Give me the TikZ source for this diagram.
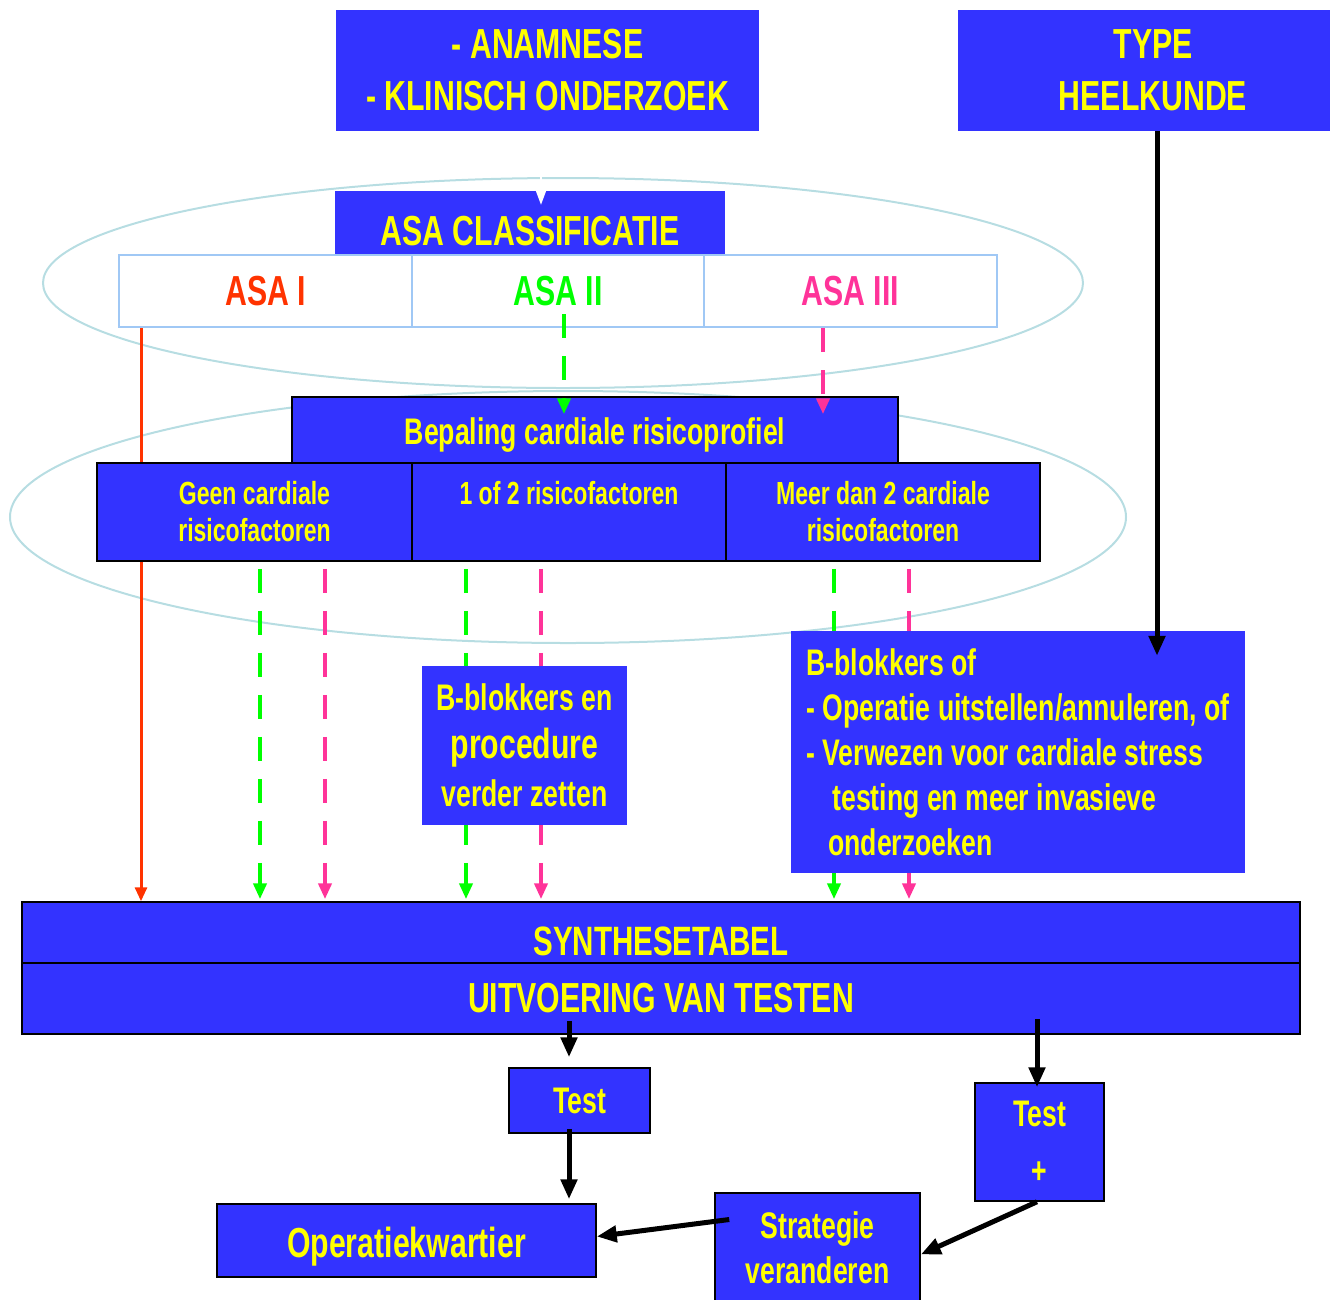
\documentclass[tikz,border=0pt]{standalone}
\usepackage{fontspec}
\setmainfont{Liberation Sans}[FakeStretch=0.72]
\usetikzlibrary{arrows.meta,backgrounds}

\definecolor{blokblauw}{RGB}{51,51,255}
\definecolor{blokgeel}{RGB}{255,255,0}
\definecolor{ringkleur}{RGB}{183,221,226}
\definecolor{celrand}{RGB}{160,200,245}
\definecolor{asarood}{RGB}{255,51,0}
\definecolor{asagroen}{RGB}{0,255,0}
\definecolor{asaroze}{RGB}{255,51,153}
\newcommand{\fz}[2]{\fontsize{#1}{#2}\selectfont}

\tikzset{
  blok/.style={fill=blokblauw, text=blokgeel, align=center, inner sep=0pt},
  rblok/.style={blok, draw=black, line width=1.5pt},
  cel/.style={draw=celrand, line width=2pt, fill=white, inner sep=0pt,
    minimum width=292.5pt, minimum height=72pt, font=\bfseries\fz{42}{50}},
  ring/.style={draw=ringkleur, line width=2pt},
  pijl/.style={line width=5pt, -{Triangle[length=20pt,width=16pt]}},
  groen/.style={asagroen, line width=4pt, dash pattern=on 24pt off 18pt,
    -{Triangle[length=16pt,width=13pt]}},
  roze/.style={groen, asaroze},
}

\begin{document}
\begin{tikzpicture}[x=1pt, y=-1pt]
\useasboundingbox (0,0) rectangle (1335,1299);
\path (547.5,70.5) node[blok, minimum width=423pt, minimum height=121pt, font=\bfseries\fz{42}{52}] (anam) {- ANAMNESE\\- KLINISCH ONDERZOEK}
  (1144,70.5) node[blok, minimum width=372pt, minimum height=121pt, font=\bfseries\fz{42}{52}] (type) {\hspace*{18pt}TYPE\\\hspace*{18pt}HEELKUNDE}
  (530,223) node[blok, minimum width=390pt, minimum height=64pt, text height=45pt, text depth=0pt, font=\bfseries\fz{42}{50}] (asacl) {ASA CLASSIFICATIE}
  (265.5,291) node[cel, text=asarood] (asaI) {ASA I}
  (558,291) node[cel, text=asagroen] (asaII) {ASA II}
  (850.5,291) node[cel, text=asaroze] (asaIII) {ASA III}
  (595,430) node[rblok, minimum width=606pt, minimum height=66pt, text height=29pt, text depth=0pt, font=\bfseries\fz{37}{44}] (bep) {Bepaling cardiale risicoprofiel}
  (254.5,512) node[rblok, minimum width=315pt, minimum height=98pt, font=\bfseries\fz{32}{37}] (geen) {Geen cardiale\\risicofactoren}
  (569,512) node[rblok, minimum width=314pt, minimum height=98pt, font=\bfseries\fz{32}{37}] (een) {1 of 2 risicofactoren\\\phantom{risicofactoren}}
  (883,512) node[rblok, minimum width=314pt, minimum height=98pt, font=\bfseries\fz{32}{37}] (meer) {Meer dan 2 cardiale\\risicofactoren}
  (661,932.5) node[rblok, minimum width=1278pt, minimum height=61pt, text height=46pt, text depth=0pt, font=\bfseries\fz{41}{48}] (synth) {SYNTHESETABEL}
  (661,998.5) node[rblok, minimum width=1278pt, minimum height=71pt, font=\bfseries\fz{42}{48}] (uitv) {UITVOERING VAN TESTEN}
  (579.5,1100.5) node[rblok, minimum width=141pt, minimum height=65pt, font=\bfseries\fz{37}{44}] (test) {Test}
  (406.5,1240.5) node[rblok, minimum width=379pt, minimum height=73pt, text height=34pt, text depth=0pt, font=\bfseries\fz{42}{48}] (opk) {Operatiekwartier}
  (1039.5,1142) node[rblok, minimum width=129pt, minimum height=118pt, font=\bfseries\fz{37}{57}] (testplus) {Test\\+}
  (817.5,1247.5) node[rblok, minimum width=205pt, minimum height=109pt, font=\bfseries\fz{37}{45}] (strat) {Strategie\\veranderen};

\begin{scope}[on background layer]
\draw[ring] (563,283) ellipse [x radius=520, y radius=105];
\draw[ring] (568,517) ellipse [x radius=558, y radius=126];
\draw[asarood, line width=3pt, -{Triangle[length=14pt,width=12pt]}] ([xshift=-124.5pt]asaI.south) coordinate (r0) -- (r0 |- synth.north);
\end{scope}

\draw[groen] ([xshift=6pt,yshift=14pt]asaII.south) coordinate (g0) -- ([yshift=-18pt]g0 |- bep.north);
\draw[roze] ([xshift=-27.5pt]asaIII.south) coordinate (p0) -- ([yshift=-18pt]p0 |- bep.north);
\draw[groen, shorten <=7pt, shorten >=2pt] ([xshift=5.5pt]geen.south) coordinate (d1) -- (d1 |- synth.north);
\draw[roze, shorten <=7pt, shorten >=2pt] ([xshift=70.5pt]geen.south) coordinate (d2) -- (d2 |- synth.north);
\draw[groen, shorten <=7pt, shorten >=2pt] ([xshift=-103pt]een.south) coordinate (d3) -- (d3 |- synth.north);
\draw[roze, shorten <=7pt, shorten >=2pt] ([xshift=-28pt]een.south) coordinate (d4) -- (d4 |- synth.north);
\draw[groen, shorten <=7pt, shorten >=2pt] ([xshift=-49pt]meer.south) coordinate (d5) -- (d5 |- synth.north);
\draw[roze, shorten <=7pt, shorten >=2pt] ([xshift=26pt]meer.south) coordinate (d6) -- (d6 |- synth.north);

\path (524.5,745.5) node[blok, minimum width=205pt, minimum height=159pt, font=\bfseries\fz{37}{48}] (bbl) {B-blokkers en\\{\fz{42}{48}procedure}\\verder zetten}
  (1018,752) node[blok, minimum width=454pt, minimum height=242pt, align=left, font=\bfseries\fz{37}{45}] (rbox) {B-blokkers of\\- Operatie uitstellen/annuleren, of\\- Verwezen voor cardiale stress\\\hspace*{26pt}testing en meer invasieve\\\hspace*{22pt}onderzoeken};

\coordinate (t0) at ([xshift=13pt]type.south);
\coordinate (t1) at ([xshift=-10.5pt]test.north);
\coordinate (t3) at ([xshift=-2.5pt]testplus.north);
\draw[white, line width=1.5pt, -{Triangle[length=14pt,width=10pt]}] ([xshift=-6.5pt]anam.south) -- ([xshift=11pt,yshift=-14pt]asacl.north);
\draw[pijl] (t0) -- ([yshift=-25pt]t0 |- rbox.north);
\draw[pijl] ([yshift=14pt]t1 |- uitv.south) -- ([yshift=10pt]t1);
\draw[pijl] ([yshift=5pt]t1 |- test.south) -- ([yshift=4pt]t1 |- opk.north);
\draw[pijl] ([yshift=16pt]t3 |- uitv.south) -- ([yshift=-5pt]t3);
\draw[pijl] ([xshift=-2.5pt]testplus.south) -- ([yshift=-7pt]strat.east);
\draw[pijl] ([xshift=15pt,yshift=28pt]strat.west) -- ([yshift=4pt]opk.east);
\end{tikzpicture}
\end{document}
